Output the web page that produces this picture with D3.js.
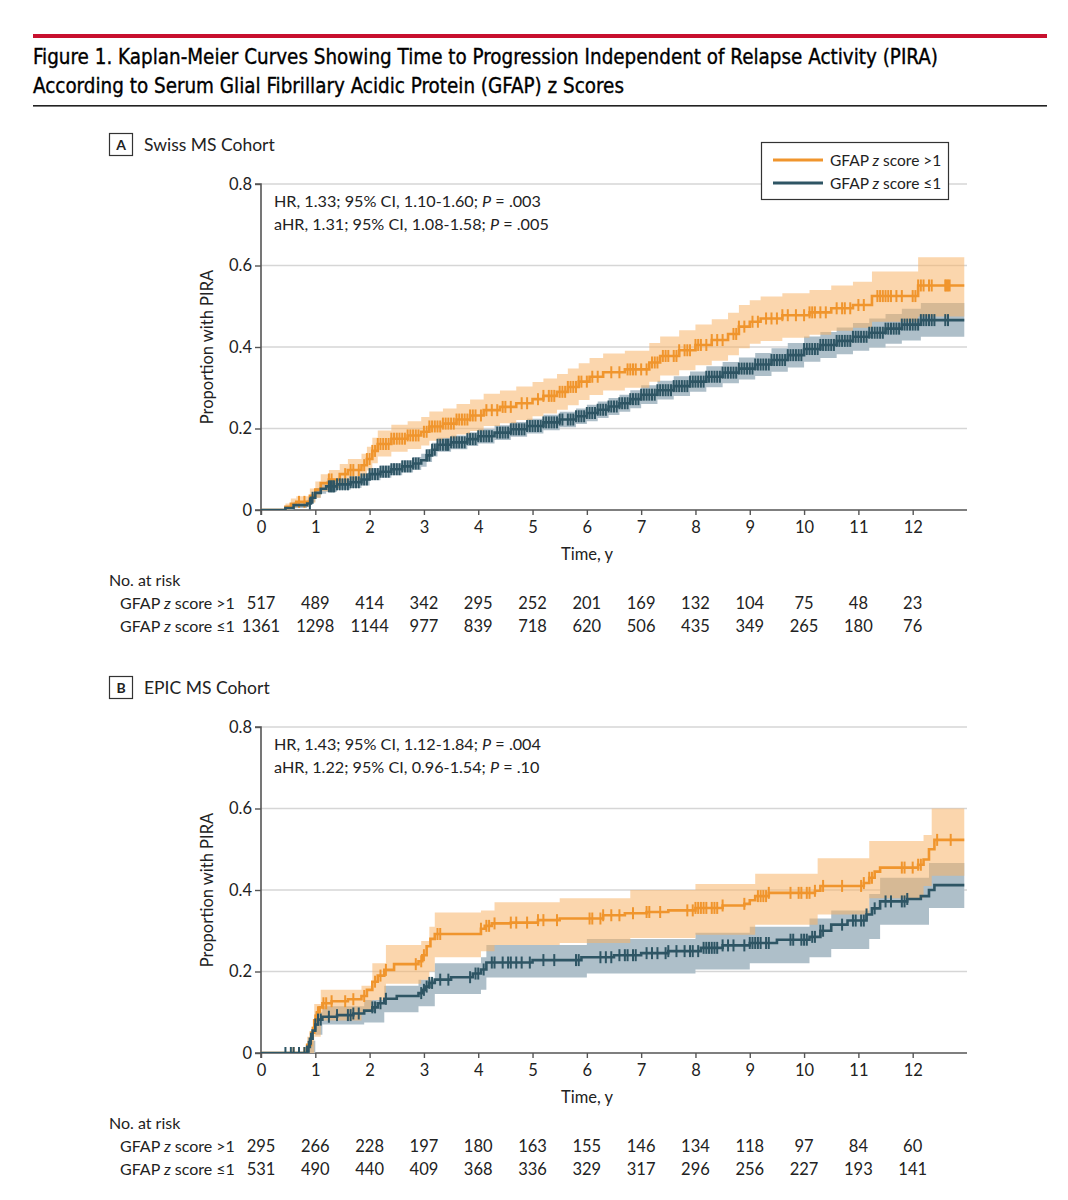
<!DOCTYPE html>
<html>
<head>
<meta charset="utf-8">
<script src="https://cdn.jsdelivr.net/npm/d3@7"></script>
<style>
  body { margin: 0; background: #fff; }
  svg { display: block; }
</style>
</head>
<body>
<svg id="chart" width="1068" height="1200"></svg>
<script>
// ---------------- DATA ----------------
const titleLines = [
  "Figure 1. Kaplan-Meier Curves Showing Time to Progression Independent of Relapse Activity (PIRA)",
  "According to Serum Glial Fibrillary Acidic Protein (GFAP) z Scores"
];
const seriesNames = ["GFAP z score >1", "GFAP z score \u22641"];
const xTicks = [0,1,2,3,4,5,6,7,8,9,10,11,12];
const yTicks = [0, 0.2, 0.4, 0.6, 0.8];
const riskTimes = [0,1,2,3,4,5,6,7,8,9,10,11,12];

// Panel A: Swiss MS Cohort
const panelA_title = "Swiss MS Cohort";
const panelA_stats = [["HR, 1.33; 95% CI, 1.10-1.60; ", ".003"], ["aHR, 1.31; 95% CI, 1.08-1.58; ", ".005"]];
const riskA_hi = [517,489,414,342,295,252,201,169,132,104,75,48,23];
const riskA_lo = [1361,1298,1144,977,839,718,620,506,435,349,265,180,76];

const kmA_hi_t = [0,0.45,0.55,0.65,0.9,1.0,1.1,1.25,1.45,1.6,1.85,1.95,2.05,2.15,2.4,2.7,2.95,3.1,3.35,3.6,3.85,4.1,4.4,4.7,5.0,5.2,5.45,5.65,5.85,6.05,6.3,6.7,7.15,7.35,7.7,8.0,8.3,8.6,8.8,9.0,9.2,9.6,10.1,10.5,10.9,11.25,12.1];
const kmA_hi_v = [0,0.008,0.015,0.02,0.035,0.05,0.066,0.075,0.088,0.098,0.11,0.125,0.145,0.162,0.175,0.183,0.192,0.205,0.212,0.222,0.232,0.245,0.253,0.262,0.272,0.28,0.29,0.302,0.315,0.327,0.338,0.345,0.362,0.378,0.392,0.405,0.417,0.432,0.45,0.462,0.47,0.478,0.485,0.495,0.503,0.525,0.551];
const ciA_hi_lo = [0,0,0.004,0.008,0.018,0.03,0.046,0.054,0.065,0.073,0.083,0.097,0.115,0.131,0.143,0.15,0.158,0.17,0.176,0.185,0.194,0.206,0.213,0.221,0.23,0.237,0.246,0.257,0.27,0.282,0.293,0.3,0.315,0.33,0.343,0.355,0.366,0.38,0.397,0.408,0.415,0.423,0.43,0.44,0.447,0.462,0.475];
const ciA_hi_up = [0,0.016,0.028,0.034,0.053,0.07,0.088,0.098,0.113,0.125,0.138,0.155,0.177,0.195,0.209,0.218,0.228,0.242,0.249,0.26,0.271,0.285,0.293,0.303,0.314,0.323,0.334,0.347,0.36,0.373,0.384,0.391,0.41,0.426,0.441,0.455,0.468,0.484,0.503,0.515,0.524,0.532,0.54,0.551,0.56,0.585,0.62];
const censA_hi = [0.7,0.8,1.25,1.3,1.55,1.65,1.7,1.8,1.9,1.95,2.0,2.05,2.1,2.15,2.2,2.25,2.3,2.35,2.4,2.45,2.5,2.55,2.6,2.65,2.7,2.75,2.8,2.85,2.9,3.0,3.05,3.1,3.15,3.2,3.25,3.3,3.35,3.4,3.45,3.5,3.55,3.6,3.65,3.7,3.75,3.8,3.85,3.9,3.95,4.05,4.15,4.25,4.35,4.45,4.5,4.6,4.8,4.9,5.1,5.2,5.3,5.35,5.4,5.5,5.55,5.6,5.65,5.7,5.75,5.8,5.85,5.9,6.0,6.1,6.2,6.45,6.6,6.75,6.8,6.85,6.9,7.0,7.1,7.2,7.25,7.3,7.4,7.45,7.5,7.6,7.65,7.7,7.8,7.85,7.9,8.0,8.05,8.1,8.2,8.3,8.4,8.5,8.7,8.75,8.8,8.9,9.05,9.15,9.3,9.4,9.5,9.6,9.7,9.85,10.0,10.1,10.15,10.2,10.3,10.4,10.6,10.7,10.75,10.85,11.0,11.1,11.35,11.4,11.45,11.5,11.55,11.6,11.7,11.8,12.0,12.05,12.1,12.15,12.2,12.3,12.35,12.6,12.62,12.65,12.68];

const kmA_lo_t = [0,0.45,0.6,0.85,0.92,1.0,1.1,1.2,1.4,1.65,1.85,2.0,2.2,2.4,2.6,2.8,2.95,3.05,3.15,3.25,3.5,3.8,4.0,4.3,4.6,4.9,5.2,5.5,5.8,6.0,6.2,6.4,6.6,6.8,7.0,7.3,7.6,7.9,8.2,8.5,8.8,9.1,9.4,9.7,10.0,10.3,10.6,10.9,11.2,11.5,11.8,12.15];
const kmA_lo_v = [0,0.005,0.012,0.016,0.03,0.042,0.052,0.058,0.063,0.068,0.075,0.088,0.094,0.1,0.107,0.114,0.122,0.134,0.148,0.16,0.166,0.174,0.181,0.19,0.198,0.206,0.215,0.222,0.23,0.238,0.246,0.254,0.262,0.272,0.283,0.294,0.304,0.315,0.327,0.337,0.347,0.357,0.368,0.38,0.395,0.405,0.415,0.425,0.435,0.445,0.455,0.466];
const ciA_lo_lo = [0,0,0.005,0.008,0.02,0.03,0.04,0.045,0.05,0.054,0.06,0.073,0.079,0.085,0.092,0.098,0.106,0.118,0.131,0.143,0.149,0.157,0.163,0.172,0.18,0.188,0.196,0.203,0.211,0.218,0.226,0.233,0.241,0.25,0.26,0.271,0.28,0.29,0.301,0.311,0.32,0.329,0.339,0.35,0.364,0.373,0.382,0.391,0.399,0.408,0.416,0.425];
const ciA_lo_up = [0,0.01,0.02,0.025,0.04,0.054,0.064,0.071,0.076,0.082,0.09,0.103,0.109,0.115,0.122,0.13,0.138,0.15,0.165,0.177,0.183,0.191,0.199,0.208,0.216,0.224,0.234,0.241,0.249,0.258,0.266,0.275,0.283,0.294,0.306,0.317,0.328,0.34,0.353,0.363,0.374,0.385,0.397,0.41,0.426,0.437,0.448,0.459,0.47,0.481,0.494,0.508];
const censA_lo = [0.9,0.95,1.25,1.28,1.3,1.33,1.35,1.4,1.45,1.5,1.55,1.6,1.65,1.7,1.75,1.8,1.85,1.9,1.95,2.0,2.05,2.1,2.15,2.2,2.25,2.3,2.35,2.4,2.45,2.5,2.55,2.6,2.65,2.7,2.75,2.8,2.85,2.9,3.05,3.1,3.15,3.2,3.25,3.3,3.35,3.4,3.43,3.45,3.5,3.55,3.6,3.65,3.7,3.75,3.8,3.85,3.9,3.95,4.0,4.05,4.1,4.15,4.2,4.25,4.35,4.4,4.45,4.5,4.55,4.6,4.65,4.7,4.75,4.8,4.85,4.9,4.95,5.0,5.05,5.1,5.15,5.2,5.25,5.3,5.35,5.4,5.45,5.5,5.55,5.65,5.7,5.75,5.8,5.85,5.9,5.95,6.0,6.05,6.1,6.15,6.2,6.25,6.3,6.35,6.4,6.45,6.5,6.55,6.6,6.65,6.7,6.75,6.8,6.85,6.9,6.95,7.0,7.05,7.1,7.15,7.2,7.25,7.3,7.35,7.4,7.45,7.5,7.55,7.6,7.65,7.7,7.75,7.8,7.85,7.9,7.95,8.0,8.05,8.1,8.15,8.2,8.25,8.3,8.35,8.4,8.45,8.5,8.55,8.6,8.65,8.7,8.75,8.8,8.85,8.9,8.95,9.0,9.05,9.1,9.15,9.2,9.25,9.3,9.35,9.4,9.45,9.5,9.55,9.6,9.65,9.7,9.75,9.8,9.85,9.9,9.95,10.0,10.05,10.1,10.15,10.2,10.25,10.3,10.35,10.4,10.45,10.5,10.55,10.6,10.65,10.7,10.75,10.8,10.85,10.9,10.95,11.0,11.05,11.1,11.15,11.2,11.25,11.3,11.35,11.4,11.45,11.5,11.55,11.6,11.65,11.7,11.75,11.8,11.85,11.9,11.95,12.0,12.05,12.1,12.15,12.2,12.25,12.3,12.35,12.4,12.6,12.65];

// Panel B: EPIC MS Cohort
const panelB_title = "EPIC MS Cohort";
const panelB_stats = [["HR, 1.43; 95% CI, 1.12-1.84; ", ".004"], ["aHR, 1.22; 95% CI, 0.96-1.54; ", ".10"]];
const riskB_hi = [295,266,228,197,180,163,155,146,134,118,97,84,60];
const riskB_lo = [531,490,440,409,368,336,329,317,296,256,227,193,141];

const kmB_hi_t = [0,0.85,0.92,0.98,1.03,1.08,1.13,1.3,1.6,1.85,1.95,2.05,2.15,2.27,2.45,2.9,2.97,3.05,3.12,3.2,4.05,4.12,4.25,4.6,5.1,5.5,6.3,6.7,7.1,7.5,8.0,8.5,8.9,9.0,9.1,9.35,10.2,10.3,11.1,11.2,11.3,11.4,12.1,12.2,12.3,12.4];
const kmB_hi_v = [0,0.02,0.05,0.08,0.1,0.112,0.122,0.127,0.132,0.14,0.155,0.175,0.19,0.204,0.218,0.225,0.24,0.262,0.28,0.292,0.305,0.312,0.318,0.32,0.326,0.33,0.338,0.343,0.346,0.35,0.356,0.362,0.366,0.375,0.385,0.393,0.398,0.41,0.417,0.43,0.445,0.455,0.462,0.475,0.5,0.523];
const ciB_hi_t = [0,0.85,0.98,1.1,1.85,2.05,2.3,2.95,3.1,3.2,4.05,4.3,5.5,6.8,8.0,9.1,10.25,11.2,12.2,12.35];
const ciB_hi_lo = [0,0,0.04,0.08,0.1,0.13,0.17,0.18,0.2,0.235,0.25,0.265,0.27,0.282,0.29,0.315,0.34,0.38,0.41,0.435];
const ciB_hi_up = [0,0.04,0.12,0.155,0.165,0.22,0.265,0.275,0.31,0.345,0.35,0.37,0.38,0.4,0.415,0.44,0.478,0.52,0.535,0.6];
const censB_hi = [0.6,0.7,0.8,0.95,1.0,1.05,1.15,1.2,1.3,1.55,1.7,1.9,2.1,2.2,2.3,2.85,2.95,3.0,3.25,3.3,4.05,4.15,4.2,4.3,4.6,4.7,4.9,5.1,5.2,5.45,6.05,6.1,6.25,6.3,6.45,6.6,6.85,7.1,7.15,7.35,7.85,7.95,8.0,8.05,8.1,8.15,8.2,8.3,8.35,8.4,8.5,8.9,9.15,9.2,9.25,9.3,9.35,9.75,9.9,9.95,10.05,10.1,10.2,10.35,10.7,11.05,11.1,11.2,11.25,11.8,11.85,12.0,12.1,12.15,12.45,12.7];

const kmB_lo_t = [0,0.85,0.9,0.95,1.0,1.05,1.13,1.4,1.7,1.9,2.05,2.15,2.27,2.5,2.9,2.97,3.03,3.1,3.2,3.5,3.9,4.05,4.15,5.0,5.9,6.5,7.0,7.5,8.1,8.5,9.0,9.5,10.1,10.3,10.5,10.8,11.15,11.25,11.4,11.9,12.15,12.3,12.4];
const kmB_lo_v = [0,0.015,0.035,0.055,0.07,0.082,0.089,0.093,0.097,0.104,0.112,0.122,0.133,0.14,0.147,0.155,0.163,0.172,0.18,0.186,0.195,0.205,0.222,0.228,0.235,0.24,0.245,0.25,0.258,0.264,0.27,0.278,0.285,0.3,0.315,0.325,0.34,0.355,0.372,0.378,0.385,0.4,0.412];
const ciB_lo_t = [0,0.85,1.0,1.13,1.9,2.27,2.9,3.2,4.05,4.15,6.0,8.0,9.0,10.1,10.5,11.2,11.4,12.3];
const ciB_lo_lo = [0,0,0.045,0.07,0.075,0.1,0.115,0.145,0.155,0.185,0.195,0.205,0.22,0.235,0.255,0.28,0.315,0.356];
const ciB_lo_up = [0,0.03,0.1,0.115,0.13,0.165,0.18,0.22,0.235,0.265,0.28,0.295,0.31,0.33,0.35,0.39,0.43,0.466];
const censB_lo = [0.45,0.55,0.6,0.7,0.8,0.88,0.92,1.0,1.05,1.1,1.25,1.4,1.6,1.65,1.7,1.8,2.05,2.1,2.2,2.3,2.95,3.0,3.05,3.1,3.15,3.3,3.45,3.85,3.95,4.0,4.1,4.25,4.3,4.45,4.55,4.6,4.7,4.8,4.95,5.2,5.4,5.8,5.85,6.25,6.35,6.45,6.6,6.7,6.75,6.85,6.9,7.1,7.2,7.3,7.45,7.5,7.65,7.8,7.9,7.95,8.05,8.15,8.2,8.25,8.3,8.35,8.4,8.5,8.6,8.7,8.9,9.0,9.05,9.1,9.15,9.2,9.3,9.35,9.75,9.8,9.95,10.0,10.05,10.15,10.2,10.3,10.35,10.7,10.9,10.95,11.05,11.1,11.15,11.3,11.5,11.6,11.8,11.85,11.9];

// ---------------- STYLE ----------------
const COL_HI = "#f0952d", COL_LO = "#2e5564";
const BAND_HI = "#f7b469", BAND_LO = "#aebfc9";
const FONT = "Lato, 'Open Sans', sans-serif";
const TFONT = "'Liberation Sans Narrow', 'DejaVu Sans Condensed', sans-serif";
const X_MAX = 13;

const svg = d3.select("#chart");

// header
svg.append("rect").attr("x", 33).attr("y", 34).attr("width", 1014).attr("height", 4).attr("fill", "#c8102e");
titleLines.forEach((t, i) => {
  svg.append("text").attr("x", 33).attr("y", 64 + i * 29)
    .attr("font-family", TFONT).attr("font-size", 21.5).attr("fill", "#000")
    .attr("stroke", "#000").attr("stroke-width", 0.35)
    .attr("textLength", i === 0 ? 905 : 591).attr("lengthAdjust", "spacingAndGlyphs")
    .text(t);
});
svg.append("rect").attr("x", 33).attr("y", 105).attr("width", 1014).attr("height", 1.6).attr("fill", "#222");

function drawPanel(cfg) {
  const g = svg.append("g").attr("transform", `translate(0,${cfg.dy})`);
  const x = d3.scaleLinear().domain([0, X_MAX]).range([261, 967]);
  const y = d3.scaleLinear().domain([0, 0.8]).range([510, 184]);

  // panel label
  g.append("rect").attr("x", 109.5).attr("y", 133.5).attr("width", 23).attr("height", 22)
    .attr("fill", "none").attr("stroke", "#333").attr("stroke-width", 1.2);
  g.append("text").attr("x", 121).attr("y", 150).attr("text-anchor", "middle")
    .attr("font-family", FONT).attr("font-weight", "bold").attr("font-size", 14).attr("fill", "#222").text(cfg.letter);
  g.append("text").attr("x", 144).attr("y", 151)
    .attr("font-family", FONT).attr("font-size", 17.5).attr("fill", "#222").text(cfg.title);

  // gridlines
  g.append("g").selectAll("line").data(yTicks.filter(d => d > 0)).join("line")
    .attr("x1", x(0)).attr("x2", x(X_MAX)).attr("y1", d => y(d)).attr("y2", d => y(d))
    .attr("stroke", "#d6d6d6").attr("stroke-width", 1.5);

  // axes
  const yAxis = d3.axisLeft(y).tickValues(yTicks).tickFormat(d => d === 0 ? "0" : d3.format(".1f")(d)).tickSize(6).tickPadding(3);
  const xAxis = d3.axisBottom(x).tickValues(xTicks).tickFormat(d3.format("d")).tickSize(5).tickPadding(6);
  const ya = g.append("g").attr("transform", `translate(${x(0)},0)`).call(yAxis);
  const xa = g.append("g").attr("transform", `translate(0,${y(0)})`).call(xAxis);
  [ya, xa].forEach(a => {
    a.select(".domain").attr("stroke", "#555").attr("stroke-width", 1.6);
    a.selectAll(".tick line").attr("stroke", "#555").attr("stroke-width", 1.4);
    a.selectAll(".tick text").attr("font-family", FONT).attr("font-size", 16.5).attr("fill", "#222");
  });
  ya.select(".domain").attr("d", `M-6,${y(0.8)}H0V${y(0)}H-6`);
  xa.select(".domain").attr("d", `M${x(0)},5V0H${x(X_MAX)}`);

  // axis titles
  g.append("text").attr("x", 587).attr("y", 560).attr("text-anchor", "middle")
    .attr("font-family", FONT).attr("font-size", 16.5).attr("fill", "#222").text("Time, y");
  g.append("text").attr("transform", `translate(213,${y(0.4)}) rotate(-90)`).attr("text-anchor", "middle")
    .attr("font-family", FONT).attr("font-size", 16.5).attr("fill", "#222").text("Proportion with PIRA");

  // stats annotation
  cfg.stats.forEach((s, i) => {
    const t = g.append("text").attr("x", 274).attr("y", 207 + i * 23)
      .attr("font-family", FONT).attr("font-size", 16.2).attr("fill", "#222");
    t.append("tspan").text(s[0]);
    t.append("tspan").attr("font-style", "italic").text("P");
    t.append("tspan").text(" = " + s[1]);
  });

  // bands
  function bandData(ts, lo, up) {
    const d = ts.map((t, i) => ({ t, lo: lo[i], up: up[i] }));
    d.push({ t: X_MAX - 0.05, lo: lo[lo.length - 1], up: up[up.length - 1] });
    return d;
  }
  const area = d3.area().curve(d3.curveStepAfter).x(d => x(d.t)).y0(d => y(d.lo)).y1(d => y(d.up));
  const clipId = "clip" + cfg.letter;
  g.append("clipPath").attr("id", clipId).append("rect").attr("x", x(0)).attr("y", y(0.8)).attr("width", x(X_MAX) - x(0)).attr("height", y(0) - y(0.8));
  const plot = g.append("g").attr("clip-path", `url(#${clipId})`);
  plot.append("path").datum(bandData(cfg.lo.ciT, cfg.lo.ciLo, cfg.lo.ciUp)).attr("d", area).attr("fill", BAND_LO);
  plot.append("path").datum(bandData(cfg.hi.ciT, cfg.hi.ciLo, cfg.hi.ciUp)).attr("d", area).attr("fill", BAND_HI).attr("fill-opacity", 0.55);

  // lines + censor marks
  const line = d3.line().curve(d3.curveStepAfter).x(d => x(d.t)).y(d => y(d.v));
  [[cfg.hi, COL_HI], [cfg.lo, COL_LO]].forEach(([s, col]) => {
    const d = s.t.map((t, i) => ({ t, v: s.v[i] }));
    d.push({ t: X_MAX - 0.05, v: s.v[s.v.length - 1] });
    plot.append("path").datum(d).attr("d", line).attr("fill", "none").attr("stroke", col).attr("stroke-width", 2.6);
    const valAt = t => s.v[Math.max(0, d3.bisectRight(s.t, t) - 1)];
    plot.append("g").selectAll("line").data(s.cens).join("line")
      .attr("x1", t => x(t)).attr("x2", t => x(t))
      .attr("y1", t => y(valAt(t)) - 6).attr("y2", t => y(valAt(t)) + 6)
      .attr("stroke", col).attr("stroke-width", 2);
  });

  // legend
  if (cfg.legend) {
    const lg = g.append("g");
    lg.append("rect").attr("x", 761.5).attr("y", 142.5).attr("width", 187).attr("height", 57)
      .attr("fill", "#fff").attr("stroke", "#333").attr("stroke-width", 1.2);
    [COL_HI, COL_LO].forEach((c, i) => {
      lg.append("line").attr("x1", 773).attr("x2", 823).attr("y1", 160 + i * 23).attr("y2", 160 + i * 23)
        .attr("stroke", c).attr("stroke-width", 3);
      const t = lg.append("text").attr("x", 830).attr("y", 166 + i * 23)
        .attr("font-family", FONT).attr("font-size", 15.5).attr("fill", "#222");
      t.append("tspan").text("GFAP ");
      t.append("tspan").attr("font-style", "italic").text("z");
      t.append("tspan").text(i === 0 ? " score >1" : " score \u22641");
    });
  }

  // risk table
  g.append("text").attr("x", 109).attr("y", 586).attr("font-family", FONT).attr("font-size", 16).attr("fill", "#222").text("No. at risk");
  [cfg.riskHi, cfg.riskLo].forEach((row, r) => {
    const yy = 609 + r * 23;
    const lab = g.append("text").attr("x", 120).attr("y", yy).attr("font-family", FONT).attr("font-size", 16).attr("fill", "#222");
    lab.append("tspan").text("GFAP ");
    lab.append("tspan").attr("font-style", "italic").text("z");
    lab.append("tspan").text(r === 0 ? " score >1" : " score \u22641");
    g.append("g").selectAll("text").data(row).join("text")
      .attr("x", (d, i) => x(riskTimes[i])).attr("y", yy).attr("text-anchor", "middle")
      .attr("font-family", FONT).attr("font-size", 16.5).attr("fill", "#222").text(d => d);
  });
}

drawPanel({
  dy: 0, letter: "A", title: panelA_title, stats: panelA_stats, legend: true,
  riskHi: riskA_hi, riskLo: riskA_lo,
  hi: { t: kmA_hi_t, v: kmA_hi_v, ciT: kmA_hi_t, ciLo: ciA_hi_lo, ciUp: ciA_hi_up, cens: censA_hi },
  lo: { t: kmA_lo_t, v: kmA_lo_v, ciT: kmA_lo_t, ciLo: ciA_lo_lo, ciUp: ciA_lo_up, cens: censA_lo }
});
drawPanel({
  dy: 543, letter: "B", title: panelB_title, stats: panelB_stats, legend: false,
  riskHi: riskB_hi, riskLo: riskB_lo,
  hi: { t: kmB_hi_t, v: kmB_hi_v, ciT: ciB_hi_t, ciLo: ciB_hi_lo, ciUp: ciB_hi_up, cens: censB_hi },
  lo: { t: kmB_lo_t, v: kmB_lo_v, ciT: ciB_lo_t, ciLo: ciB_lo_lo, ciUp: ciB_lo_up, cens: censB_lo }
});
</script>
</body>
</html>
